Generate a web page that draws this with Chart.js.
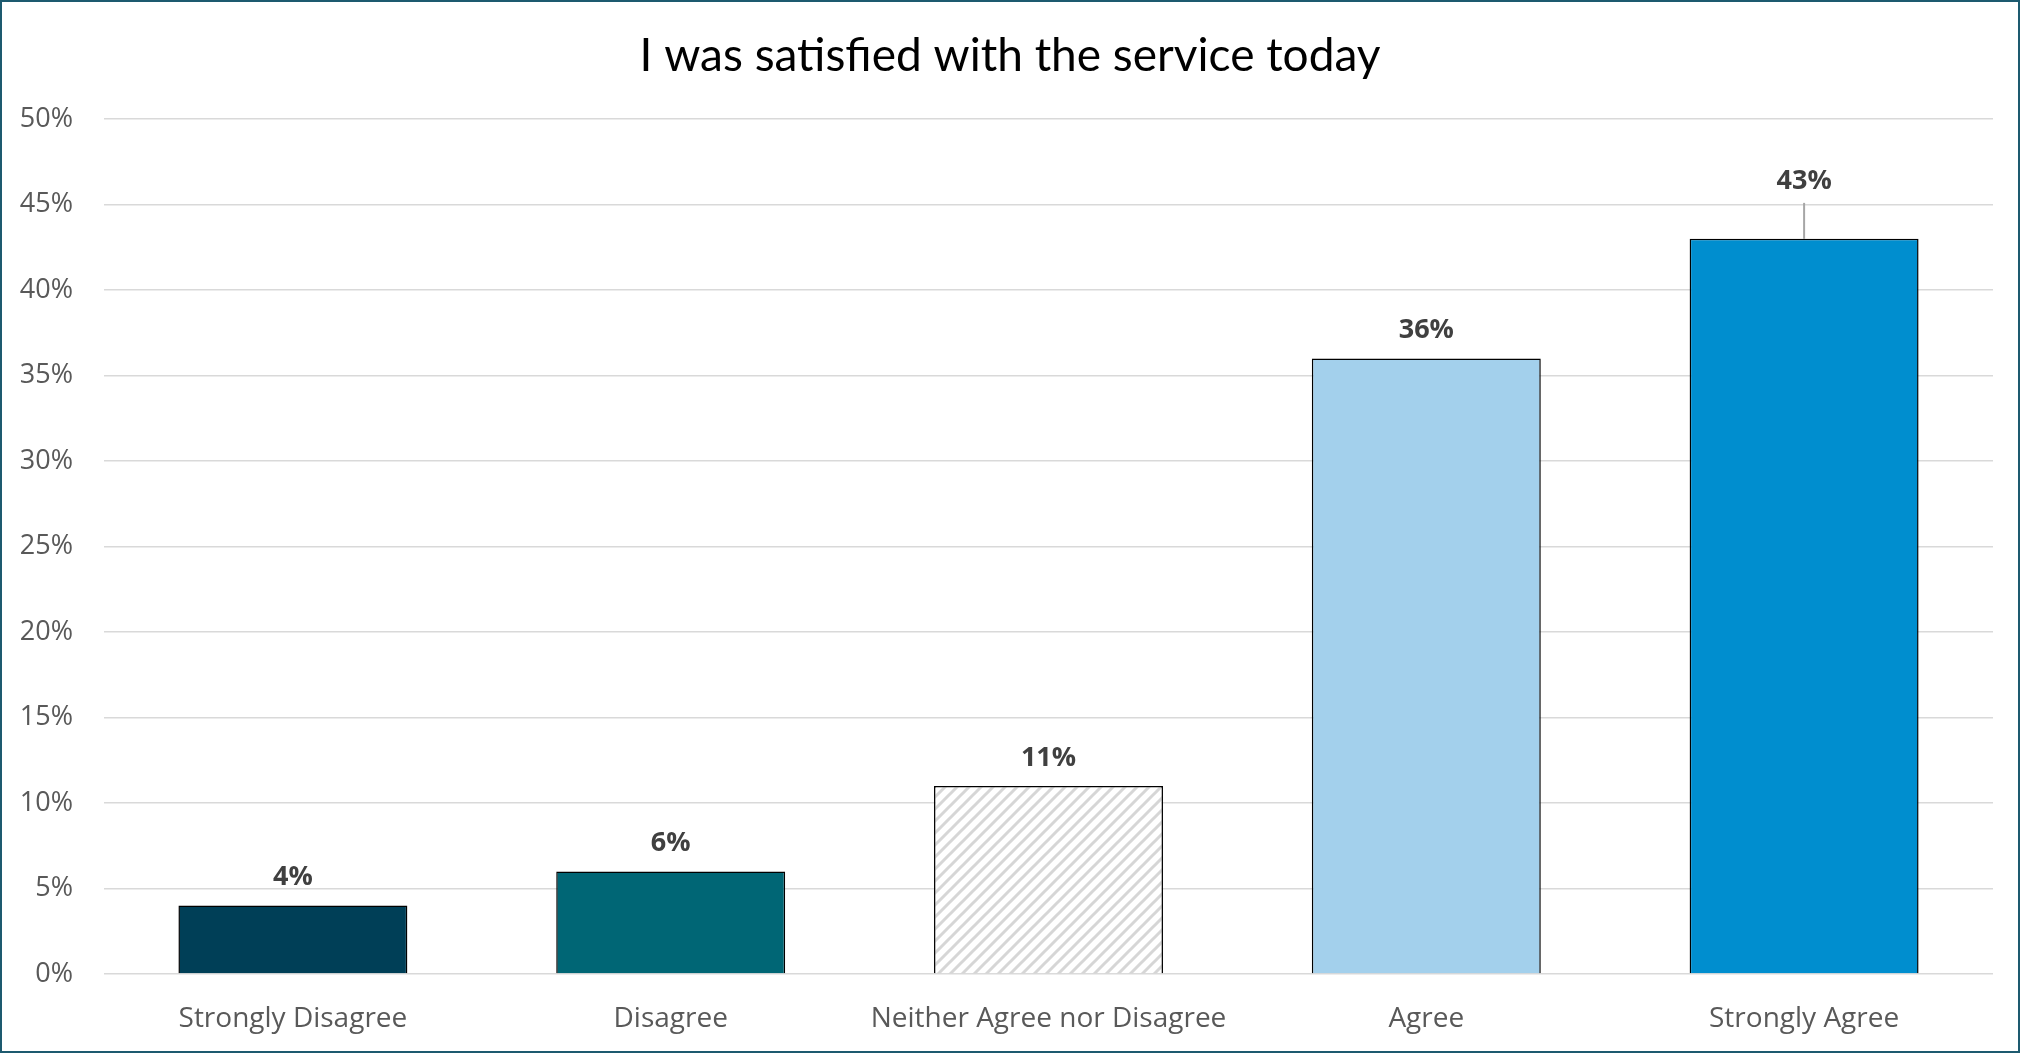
<!DOCTYPE html>
<html>
<head>
<meta charset="utf-8">
<script src="https://cdn.jsdelivr.net/npm/chart.js@4.4.1/dist/chart.umd.min.js"></script>
<style>
  html, body { margin: 0; padding: 0; background: #fff; }
  #frame {
    width: 2020px; height: 1053px; box-sizing: border-box;
    border: 2px solid #1d5a6f; background: #fff;
  }
  canvas { display: block; }
</style>
</head>
<body>
<div id="frame"><canvas id="chart" width="2016" height="1049"></canvas></div>
<script>
// chart data
const categories = ["Strongly Disagree", "Disagree", "Neither Agree nor Disagree", "Agree", "Strongly Agree"];
const percentValues = [4, 6, 11, 36, 43];
const yTicks = [0, 5, 10, 15, 20, 25, 30, 35, 40, 45, 50];

const barColors = ["#003f57", "#006675", null, "#a3d0ec", "#008ecf"];

// diagonal hatch for the neutral bar
function makeHatch() {
    const size = 12;
    const c = document.createElement("canvas");
    c.width = size;
    c.height = size;
    const ctx = c.getContext("2d");
    ctx.fillStyle = "#ffffff";
    ctx.fillRect(0, 0, size, size);
    ctx.strokeStyle = "#d6d6d6";
    ctx.lineWidth = 3;
    ctx.beginPath();
    ctx.moveTo(-2, size + 2); ctx.lineTo(size + 2, -2);
    ctx.moveTo(-2, 2); ctx.lineTo(2, -2);
    ctx.moveTo(size - 2, size + 2); ctx.lineTo(size + 2, size - 2);
    ctx.stroke();
    return document.getElementById("chart").getContext("2d").createPattern(c, "repeat");
}

const fills = barColors.map(c => c || makeHatch());

// value labels above bars, last one sits higher with a leader line
const valueLabels = {
    id: "valueLabels",
    afterDatasetsDraw(chart) {
        const ctx = chart.ctx;
        const meta = chart.getDatasetMeta(0);
        ctx.save();
        ctx.font = "bold 27px 'Open Sans'";
        ctx.fillStyle = "#404040";
        ctx.textAlign = "center";
        ctx.textBaseline = "middle";
        meta.data.forEach((bar, i) => {
            const v = percentValues[i];
            let offset = 28;
            if (i === percentValues.length - 1) {
                offset = 58;
                ctx.strokeStyle = "#a6a6a6";
                ctx.lineWidth = 2;
                ctx.beginPath();
                ctx.moveTo(bar.x, bar.y);
                ctx.lineTo(bar.x, bar.y - 36);
                ctx.stroke();
            }
            ctx.fillText(v + "%", bar.x, bar.y - offset);
        });
        ctx.restore();
    }
};

// center the title on the whole frame rather than the padded box
const centerTitle = {
    id: "centerTitle",
    afterLayout(chart) {
        if (chart.titleBlock) {
            chart.titleBlock.left = 0;
            chart.titleBlock.right = chart.width;
        }
    }
};

new Chart(document.getElementById("chart"), {
    type: "bar",
    data: {
        labels: categories,
        datasets: [{
            data: percentValues,
            backgroundColor: fills,
            borderColor: "#000000",
            borderWidth: 1.5,
            barPercentage: 0.606,
            categoryPercentage: 1.0,
        }]
    },
    options: {
        responsive: false,
        animation: false,
        layout: { padding: { left: 0, right: 25, top: 0, bottom: 0 } },
        plugins: {
            legend: { display: false },
            tooltip: { enabled: false },
            title: {
                display: true,
                text: "I was satisfied with the service today",
                color: "#000000",
                font: { family: "Lato", size: 46, weight: "normal", lineHeight: 1.2 },
                padding: { top: 27, bottom: 35 },
            },
        },
        scales: {
            x: {
                grid: { display: false },
                border: { display: false },
                ticks: {
                    color: "#595959",
                    font: { family: "'Open Sans'", size: 28 },
                    padding: 20,
                    maxRotation: 0,
                },
                afterFit(scale) { scale.height = 77; },
            },
            y: {
                min: 0,
                max: 50,
                afterBuildTicks(scale) { scale.ticks = yTicks.map(v => ({ value: v })); },
                grid: { color: "#d9d9d9", lineWidth: 1.5, drawTicks: false },
                border: { display: false },
                ticks: {
                    color: "#595959",
                    font: { family: "'Open Sans'", size: 27 },
                    padding: 31,
                    callback: v => v + "%",
                },
                afterFit(scale) { scale.width = 102; },
            },
        },
    },
    plugins: [valueLabels, centerTitle],
});
</script>
</body>
</html>
